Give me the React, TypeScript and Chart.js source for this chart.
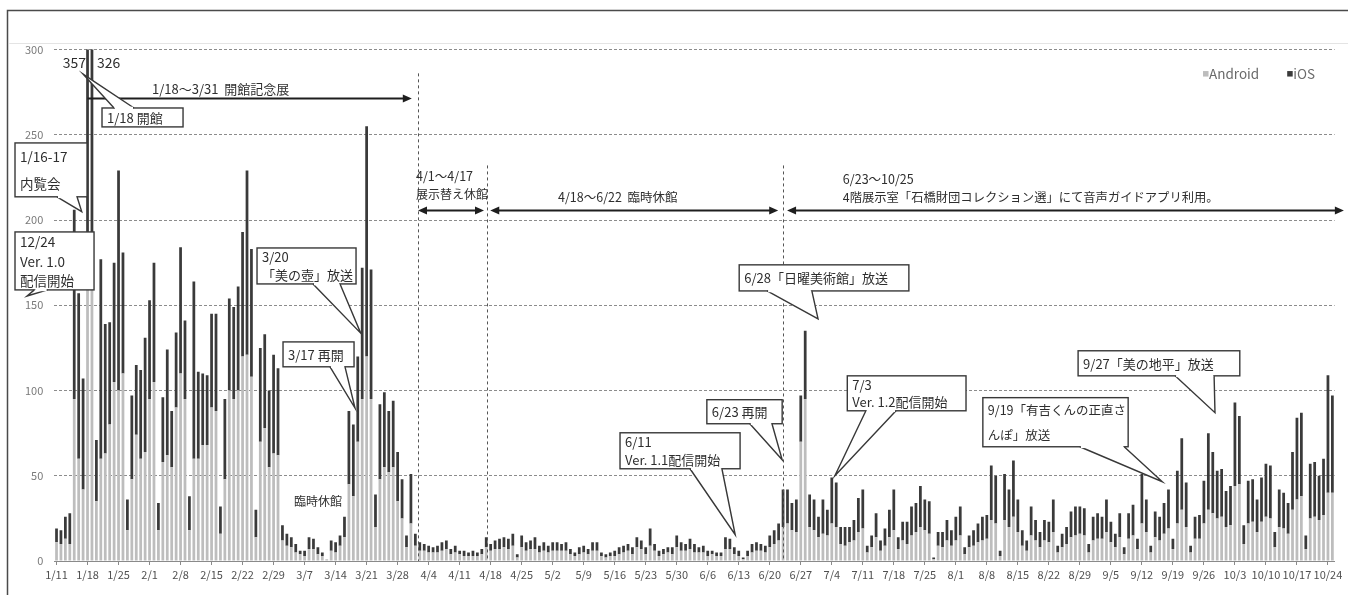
import React, { useEffect, useRef } from 'react';
import { Chart, registerables } from 'chart.js';

Chart.register(...registerables);

const FONT = '"Noto Sans CJK JP", "Noto Sans", sans-serif';
const DAY_COUNT = 289;

const TICK_LABELS = [
  '1/11', '1/18', '1/25', '2/1', '2/8', '2/15', '2/22', '2/29', '3/7', '3/14', '3/21', '3/28',
  '4/4', '4/11', '4/18', '4/25', '5/2', '5/9', '5/16', '5/23', '5/30', '6/6', '6/13', '6/20',
  '6/27', '7/4', '7/11', '7/18', '7/25', '8/1', '8/8', '8/15', '8/22', '8/29', '9/5', '9/12',
  '9/19', '9/26', '10/3', '10/10', '10/17', '10/24',
];

const ANDROID = [
  11, 10, 13, 10, 95, 60, 42, 190, 170, 35,
  60, 63, 80, 105, 100, 110, 18, 48, 74, 60,
  64, 95, 105, 18, 58, 62, 55, 90, 110, 95,
  18, 60, 60, 68, 68, 90, 88, 16, 48, 100,
  95, 100, 120, 121, 108, 14, 70, 78, 55, 63,
  62, 12, 9, 8, 5, 4, 3, 7, 7, 4,
  3, 1, 6, 5, 9, 14, 45, 38, 70, 95,
  120, 95, 20, 48, 55, 52, 55, 35, 25, 8,
  22, 9, 6, 6, 5, 5, 5, 6, 7, 4,
  5, 4, 3, 3, 3, 3, 4, 8, 6, 7,
  7, 8, 7, 9, 2, 8, 6, 7, 7, 5,
  6, 5, 6, 6, 6, 6, 4, 3, 4, 5,
  4, 6, 6, 3, 2, 3, 3, 4, 5, 6,
  4, 8, 7, 4, 9, 6, 3, 4, 5, 4,
  8, 6, 6, 7, 5, 5, 5, 3, 4, 3,
  3, 7, 7, 4, 3, 1, 3, 5, 6, 6,
  5, 8, 10, 12, 20, 22, 18, 17, 70, 95,
  20, 18, 14, 16, 15, 22, 20, 10, 9, 11,
  12, 17, 19, 5, 8, 14, 6, 9, 14, 18,
  7, 12, 10, 15, 17, 20, 18, 16, 1, 9,
  8, 12, 9, 12, 15, 4, 8, 9, 11, 12,
  13, 24, 22, 3, 24, 20, 26, 17, 9, 6,
  15, 12, 8, 12, 11, 17, 5, 8, 10, 14,
  15, 16, 15, 5, 12, 13, 13, 17, 11, 8,
  14, 4, 13, 15, 7, 22, 17, 5, 14, 12,
  16, 19, 7, 22, 30, 20, 5, 13, 13, 22,
  30, 28, 25, 26, 20, 21, 44, 45, 10, 22,
  23, 17, 23, 26, 25, 8, 20, 19, 16, 30,
  36, 38, 7, 25, 26, 24, 27, 40, 40,
];

const IOS = [
  8, 8, 13, 18, 111, 97, 65, 167, 156, 36,
  117, 76, 60, 70, 129, 71, 18, 49, 41, 52,
  67, 58, 70, 16, 38, 62, 33, 44, 74, 46,
  20, 104, 51, 42, 41, 55, 57, 16, 47, 54,
  54, 61, 73, 108, 75, 16, 55, 55, 45, 58,
  51, 9, 7, 6, 5, 2, 3, 7, 6, 4,
  2, 0, 6, 6, 6, 12, 43, 42, 50, 77,
  135, 76, 19, 44, 44, 36, 39, 29, 23, 7,
  29, 7, 5, 4, 4, 3, 4, 5, 5, 3,
  4, 2, 3, 2, 3, 2, 3, 6, 4, 5,
  6, 6, 6, 7, 2, 7, 5, 5, 7, 4,
  5, 4, 5, 5, 4, 5, 3, 2, 4, 4,
  3, 5, 5, 2, 2, 2, 3, 4, 4, 4,
  4, 6, 5, 4, 10, 4, 3, 3, 3, 4,
  7, 5, 4, 6, 5, 3, 4, 3, 2, 2,
  2, 7, 6, 4, 3, 1, 3, 5, 5, 4,
  4, 7, 8, 10, 22, 20, 16, 19, 27, 40,
  19, 18, 12, 20, 15, 27, 26, 10, 11, 9,
  12, 20, 23, 4, 7, 14, 6, 10, 16, 24,
  7, 11, 13, 17, 17, 24, 18, 19, 1, 8,
  9, 12, 9, 14, 17, 4, 7, 9, 11, 14,
  14, 32, 28, 3, 27, 22, 33, 19, 9, 6,
  17, 12, 9, 12, 12, 19, 4, 8, 10, 15,
  17, 16, 16, 5, 14, 15, 13, 19, 12, 8,
  14, 4, 15, 18, 6, 29, 19, 4, 15, 14,
  18, 23, 6, 31, 42, 26, 4, 13, 14, 25,
  45, 36, 28, 28, 21, 23, 49, 40, 11, 25,
  25, 19, 26, 31, 31, 9, 22, 21, 18, 34,
  48, 49, 8, 32, 32, 26, 33, 69, 57,
];

// Clipped peak values printed above the axis limit
const PEAK_LABELS = [
  { text: '357', at: 6.66, value: 292.4, align: 'right' },
  { text: '326', at: 9.14, value: 292.4, align: 'left' },
];

function buildCategories(): string[] {
  const out: string[] = [];
  const d = new Date(2020, 0, 11);
  for (let k = 0; k < DAY_COUNT; k++) {
    out.push(`${d.getMonth() + 1}/${d.getDate()}`);
    d.setDate(d.getDate() + 1);
  }
  return out;
}
const CATEGORIES = buildCategories();

// Annotations in data units: x = day index, y = value
const CALLOUTS = [
  { lines: ['1/16-17', '内覧会'], box: [-9.37, 245.2, 6.89, 213.6], base: [0.11, 4.63], tip: [5.69, 204.9], edge: 'bottom', size: 13.5 },
  { lines: ['12/24', 'Ver. 1.0', '配信開始'], box: [-9.37, 193.0, 8.47, 159.0], base: [-5.0, -2.0], tip: [-6.66, 155.4], edge: 'bottom', size: 13.5 },
  { lines: ['1/18 開館'], box: [10.27, 265.7, 28.56, 254.6], base: [12.98, 17.49], tip: [5.98, 285.6], edge: 'top', size: 13 },
  { lines: ['3/20', '「美の壺」放送'], box: [45.26, 183.6, 67.61, 162.5], base: [57.9, 64.0], tip: [68.67, 133.6], edge: 'bottom', size: 13 },
  { lines: ['3/17 再開'], box: [51.13, 128.5, 67.16, 113.9], base: [61.74, 65.12], tip: [67.38, 89.7], edge: 'bottom', size: 13 },
  { lines: ['6/11', 'Ver. 1.1配信開始'], box: [127.2, 75.2, 154.3, 54.1], base: [143.0, 150.2], tip: [153.2, 15.4], edge: 'bottom', size: 13 },
  { lines: ['6/23 再開'], box: [146.8, 94.6, 163.8, 80.5], base: [156.5, 161.5], tip: [163.8, 59.4], edge: 'bottom', size: 13 },
  { lines: ['6/28「日曜美術館」放送'], box: [154.1, 173.7, 192.4, 158.4], base: [160.4, 170.5], tip: [171.9, 142.0], edge: 'bottom', size: 13 },
  { lines: ['7/3', 'Ver. 1.2配信開始'], box: [178.5, 108.6, 205.3, 88.1], base: [182.7, 189.5], tip: [175.7, 50.0], edge: 'bottom', size: 13 },
  { lines: ['9/19「有吉くんの正直さ', 'んぽ」放送'], box: [209.1, 95.8, 241.9, 67.0], base: [231.0, 241.0], tip: [249.6, 46.5], edge: 'bottom', size: 12.5 },
  { lines: ['9/27「美の地平」放送'], box: [230.6, 123.3, 267.1, 108.6], base: [252.5, 261.3], tip: [261.5, 87.0], edge: 'bottom', size: 13 },
];

const FREE_TEXTS = [
  { text: '1/18～3/31  開館記念展', at: 21.56, value: 276.8, size: 13, align: 'left' },
  { text: '4/1～4/17', at: 81.15, value: 225.9, size: 12.5, align: 'left' },
  { text: '展示替え休館', at: 81.15, value: 214.7, size: 12, align: 'left' },
  { text: '4/18～6/22  臨時休館', at: 113.2, value: 213.5, size: 12.5, align: 'left' },
  { text: '6/23～10/25', at: 177.5, value: 224.1, size: 12.5, align: 'left' },
  { text: '4階展示室「石橋財団コレクション選」にて音声ガイドアプリ利用。', at: 177.5, value: 213.5, size: 12.3, align: 'left' },
  { text: '臨時休館', at: 59.0, value: 34.8, size: 12, align: 'center' },
];

const ARROWS = [
  { from: 7, to: 80.2, value: 271.7, left: false, right: true },
  { from: 81.6, to: 96.5, value: 205.9, left: true, right: true },
  { from: 97.9, to: 162.9, value: 205.9, left: true, right: true },
  { from: 164.9, to: 290.6, value: 205.9, left: true, right: true },
];

const VLINES = [
  { at: 81.6, top: 286 },
  { at: 97.1, top: 232 },
  { at: 163.9, top: 232 },
];

const LEGEND = [
  { text: 'Android', color: '#bdbdbd', at: 258.8, value: 285.6 },
  { text: 'iOS', color: '#3a3a3a', at: 277.8, value: 285.6 },
];

function drawArrow(ctx: CanvasRenderingContext2D, x1: number, x2: number, y: number, left: boolean, right: boolean) {
  const hl = 9;
  const hw = 4;
  ctx.save();
  ctx.setLineDash([]);
  ctx.strokeStyle = '#1e1e1e';
  ctx.fillStyle = '#1e1e1e';
  ctx.lineWidth = 2.2;
  ctx.beginPath();
  ctx.moveTo(left ? x1 + hl - 1 : x1, y);
  ctx.lineTo(right ? x2 - hl + 1 : x2, y);
  ctx.stroke();
  if (right) {
    ctx.beginPath();
    ctx.moveTo(x2, y);
    ctx.lineTo(x2 - hl, y - hw);
    ctx.lineTo(x2 - hl, y + hw);
    ctx.closePath();
    ctx.fill();
  }
  if (left) {
    ctx.beginPath();
    ctx.moveTo(x1, y);
    ctx.lineTo(x1 + hl, y - hw);
    ctx.lineTo(x1 + hl, y + hw);
    ctx.closePath();
    ctx.fill();
  }
  ctx.restore();
}

const annotationPlugin = {
  id: 'annotations',
  beforeDraw(chart: any) {
    const c = chart.ctx;
    c.save();
    c.fillStyle = '#ffffff';
    c.fillRect(0, 0, chart.width, chart.height);
    c.restore();
  },
  afterDraw(chart: any) {
    const ctx: CanvasRenderingContext2D = chart.ctx;
    const xs = chart.scales.x;
    const ys = chart.scales.y;
    const X = (i: number) => xs.getPixelForValue(i);
    const Y = (v: number) => ys.getPixelForValue(v);
    const area = chart.chartArea;

    ctx.save();
    // outer frame
    ctx.strokeStyle = '#4a4a4a';
    ctx.lineWidth = 1.5;
    ctx.strokeRect(area.left - 46.8, area.top - 39, 1500, 800);
    ctx.strokeStyle = '#e4e4e4';
    ctx.lineWidth = 1;
    ctx.beginPath();
    ctx.moveTo(area.left - 45, area.top - 6);
    ctx.lineTo(chart.width, area.top - 6);
    ctx.stroke();

    // vertical dashed lines
    ctx.strokeStyle = '#555';
    ctx.lineWidth = 1;
    ctx.setLineDash([3, 3]);
    VLINES.forEach((l) => {
      const x = Math.round(X(l.at)) + 0.5;
      ctx.beginPath();
      ctx.moveTo(x, Y(l.top));
      ctx.lineTo(x, Y(0));
      ctx.stroke();
    });
    ctx.setLineDash([]);

    ARROWS.forEach((a) => drawArrow(ctx, X(a.from), X(a.to), Math.round(Y(a.value)) + 0.5, a.left, a.right));

    // free texts
    ctx.fillStyle = '#2e2e2e';
    ctx.textBaseline = 'middle';
    FREE_TEXTS.forEach((t) => {
      ctx.font = `${t.size}px ${FONT}`;
      ctx.textAlign = t.align as CanvasTextAlign;
      ctx.fillText(t.text, X(t.at), Y(t.value));
    });

    PEAK_LABELS.forEach((p) => {
      ctx.font = `14px ${FONT}`;
      ctx.fillStyle = '#2e2e2e';
      ctx.textAlign = p.align as CanvasTextAlign;
      ctx.fillText(p.text, X(p.at), Y(p.value));
    });

    // callouts
    CALLOUTS.forEach((c) => {
      const x1 = X(c.box[0]);
      const y1 = Y(c.box[1]);
      const x2 = X(c.box[2]);
      const y2 = Y(c.box[3]);
      const by = c.edge === 'top' ? y1 : y2;
      const bx1 = X(c.base[0]);
      const bx2 = X(c.base[1]);
      const tx = X(c.tip[0]);
      const ty = Y(c.tip[1]);
      ctx.save();
      ctx.setLineDash([]);
      ctx.lineWidth = 1.4;
      ctx.strokeStyle = '#383838';
      ctx.fillStyle = '#ffffff';
      ctx.fillRect(x1, y1, x2 - x1, y2 - y1);
      ctx.strokeRect(x1, y1, x2 - x1, y2 - y1);
      ctx.beginPath();
      ctx.moveTo(bx1, by);
      ctx.lineTo(tx, ty);
      ctx.lineTo(bx2, by);
      ctx.closePath();
      ctx.fill();
      ctx.beginPath();
      ctx.moveTo(bx1, by);
      ctx.lineTo(tx, ty);
      ctx.lineTo(bx2, by);
      ctx.stroke();
      ctx.fillRect(bx1 + 1, by - 1.3, bx2 - bx1 - 2, 2.6);
      ctx.fillStyle = '#2e2e2e';
      ctx.font = `${c.size}px ${FONT}`;
      ctx.textAlign = 'left';
      ctx.textBaseline = 'middle';
      const h = (y2 - y1) / c.lines.length;
      c.lines.forEach((line, k) => ctx.fillText(line, x1 + 5, y1 + h * (k + 0.5) + 0.5));
      ctx.restore();
    });

    // legend
    LEGEND.forEach((l) => {
      const x = X(l.at);
      const y = Y(l.value);
      ctx.fillStyle = l.color;
      ctx.fillRect(x, y - 3, 5.5, 5.5);
      ctx.fillStyle = '#6a6a6a';
      ctx.font = `13.5px ${FONT}`;
      ctx.textAlign = 'left';
      ctx.textBaseline = 'middle';
      ctx.fillText(l.text, x + 6, y);
    });
    ctx.restore();
  },
};

export default function App() {
  const ref = useRef<HTMLCanvasElement>(null);

  useEffect(() => {
    if (!ref.current) return;
    const chart = new Chart(ref.current, {
      type: 'bar',
      data: {
        labels: CATEGORIES,
        datasets: [
          { label: 'Android', data: ANDROID, backgroundColor: '#bdbdbd', barPercentage: 0.62, categoryPercentage: 1 },
          { label: 'iOS', data: IOS, backgroundColor: '#3a3a3a', barPercentage: 0.62, categoryPercentage: 1 },
        ],
      },
      options: {
        responsive: false,
        animation: false,
        devicePixelRatio: 1,
        layout: { padding: { top: 49.5, right: 13.4, left: 0, bottom: 0 } },
        plugins: {
          legend: { display: false },
          tooltip: { enabled: false },
        },
        scales: {
          x: {
            stacked: true,
            offset: true,
            grid: {
              offset: false,
              drawOnChartArea: false,
              drawTicks: true,
              tickLength: 4,
              color: (ctx: any) => (ctx.index % 7 === 0 ? '#8a8a8a' : 'rgba(0,0,0,0)'),
            },
            border: { display: true, color: '#8a8a8a', width: 1 },
            ticks: {
              autoSkip: false,
              maxRotation: 0,
              minRotation: 0,
              padding: 3,
              color: '#505050',
              font: { size: 11, family: FONT },
              callback: (_v: any, i: number) => (i % 7 === 0 ? TICK_LABELS[i / 7] : ''),
            },
            afterFit: (s: any) => { s.height = 34; },
          },
          y: {
            stacked: true,
            min: 0,
            max: 300,
            grid: { color: '#8c8c8c', lineWidth: 1, drawTicks: false },
            border: { display: false, dash: [3, 2] },
            ticks: {
              stepSize: 50,
              padding: 11,
              color: '#7a7a7a',
              font: { size: 11, family: FONT },
            },
            afterFit: (s: any) => { s.width = 54.3; },
          },
        },
      },
      plugins: [annotationPlugin],
    } as any);
    return () => chart.destroy();
  }, []);

  return (
    <div style={{ position: 'absolute', left: 0, top: 0, width: 1348, height: 595 }}>
      <canvas ref={ref} width={1348} height={595} style={{ display: 'block', width: 1348, height: 595 }} />
    </div>
  );
}
